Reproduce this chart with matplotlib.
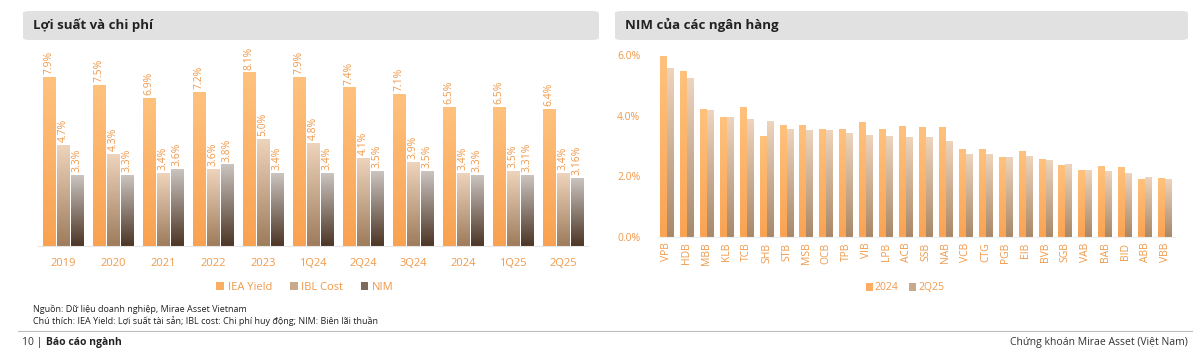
import numpy as np
import matplotlib
matplotlib.use('Agg')
import matplotlib.pyplot as plt
from matplotlib.colors import LinearSegmentedColormap
from matplotlib.patches import FancyBboxPatch, Patch
from matplotlib.lines import Line2D

plt.rcParams['font.family'] = ['Open Sans', 'DejaVu Sans']

# left chart data
periods = ['2019', '2020', '2021', '2022', '2023', '1Q24', '2Q24', '3Q24', '2024', '1Q25', '2Q25']
iea_yield = [7.9, 7.5, 6.9, 7.2, 8.1, 7.9, 7.4, 7.1, 6.5, 6.5, 6.4]
ibl_cost = [4.7, 4.3, 3.4, 3.6, 5.0, 4.8, 4.1, 3.9, 3.4, 3.5, 3.4]
nim = [3.3, 3.3, 3.6, 3.8, 3.4, 3.4, 3.5, 3.5, 3.3, 3.31, 3.16]

# right chart data
banks = ['VPB', 'HDB', 'MBB', 'KLB', 'TCB', 'SHB', 'STB', 'MSB', 'OCB', 'TPB', 'VIB', 'LPB', 'ACB',
         'SSB', 'NAB', 'VCB', 'CTG', 'PGB', 'EIB', 'BVB', 'SGB', 'VAB', 'BAB', 'BID', 'ABB', 'VBB']
nim_2024 = [5.95, 5.44, 4.21, 3.93, 4.27, 3.32, 3.66, 3.66, 3.53, 3.53, 3.78, 3.56, 3.63,
            3.60, 3.60, 2.90, 2.90, 2.63, 2.81, 2.56, 2.35, 2.18, 2.32, 2.29, 1.89, 1.92]
nim_2q25 = [5.55, 5.24, 4.18, 3.95, 3.89, 3.82, 3.53, 3.50, 3.51, 3.40, 3.36, 3.30, 3.27,
            3.27, 3.15, 2.72, 2.71, 2.63, 2.64, 2.52, 2.38, 2.18, 2.15, 2.08, 1.95, 1.89]

ORANGE_TXT = '#F0994A'
W, H = 1200, 351
fig = plt.figure(figsize=(12, 3.51), dpi=100)


def px_axes(x0, y0, x1, y1):
    # pixel box (top-left origin) -> figure axes
    return fig.add_axes([x0 / W, 1 - y1 / H, (x1 - x0) / W, (y1 - y0) / H])


def grad_bars(ax, bars, top, bottom):
    cmap = LinearSegmentedColormap.from_list('g', [bottom, top])
    grad = np.linspace(0, 1, 256).reshape(-1, 1)
    for b in bars:
        x, y = b.get_xy()
        w, h = b.get_width(), b.get_height()
        ax.imshow(grad, extent=[x, x + w, y, y + h], origin='lower', cmap=cmap,
                  aspect='auto', zorder=2, interpolation='bilinear')
        b.set_facecolor('none')
        b.set_edgecolor('none')


# header boxes
for (x0, x1, title) in [(23, 599, 'Lợi suất và chi phí'), (615, 1188, 'NIM của các ngân hàng')]:
    fig.patches.append(FancyBboxPatch((x0 / W, 1 - 40 / H), (x1 - x0) / W, 29 / H,
                                      boxstyle='round,pad=0,rounding_size=0.006',
                                      transform=fig.transFigure, fc='#E1E1E1', ec='none'))
    fig.text((x0 + 10) / W, 1 - 25 / H, title, fontsize=9.5, fontweight='bold',
             va='center', ha='left', color='#222222')

# left chart
ax1 = px_axes(38, 45, 588, 246)
x = np.arange(len(periods))
bw = 0.25
cols1 = [('#FFC27E', '#F9A150'), ('#EED4BC', '#9E7C5C'), ('#CBC4BF', '#4C3525')]
for i, (vals, (ct, cb)) in enumerate(zip([iea_yield, ibl_cost, nim], cols1)):
    pos = x + (i - 1) * (bw + 0.03)
    bars = ax1.bar(pos, vals, width=bw, zorder=2)
    grad_bars(ax1, bars, ct, cb)
    for p, v in zip(pos, vals):
        lab = f'{v:.2f}%' if round(v, 1) != v else f'{v:.1f}%'
        ax1.text(p, v + 0.15, lab, rotation=90, ha='center', va='bottom',
                 fontsize=7.5, color=ORANGE_TXT)
ax1.set_xlim(-0.5, len(periods) - 0.5)
ax1.set_ylim(0, 9.4)
ax1.set_xticks(x)
ax1.set_xticklabels(periods, fontsize=8, color=ORANGE_TXT)
ax1.tick_params(axis='x', length=0, pad=9)
ax1.set_yticks([])
for s in ['top', 'right', 'left']:
    ax1.spines[s].set_visible(False)
ax1.spines['bottom'].set_color('#E6E6E6')

handles1 = [Patch(fc=c, ec='none') for c in ['#FBAE62', '#C9A98C', '#7E6A5C']]
fig.legend(handles1, ['IEA Yield', 'IBL Cost', 'NIM'], loc='center', bbox_to_anchor=(305 / W, 1 - 287 / H),
           ncol=3, frameon=False, fontsize=8, labelcolor=ORANGE_TXT, handlelength=0.7,
           handleheight=0.7, handletextpad=0.3, columnspacing=1.6)

# right chart
ax2 = px_axes(657, 45, 1175, 237)
xb = np.arange(len(banks))
bw2 = 0.35
b1 = ax2.bar(xb - bw2 / 2, nim_2024, width=bw2, zorder=2)
grad_bars(ax2, b1, '#FFC27E', '#F9A353')
b2 = ax2.bar(xb + bw2 / 2, nim_2q25, width=bw2, zorder=2)
grad_bars(ax2, b2, '#EED4BC', '#A88868')
ax2.set_xlim(-0.5, len(banks) - 0.5)
ax2.set_ylim(0, 6.33)
ax2.set_yticks([0, 2, 4, 6])
ax2.set_yticklabels([f'{t:.1f}%' for t in [0, 2, 4, 6]], fontsize=7.5, color=ORANGE_TXT)
ax2.set_xticks(xb)
ax2.set_xticklabels(banks, rotation=90, fontsize=7.5, color=ORANGE_TXT)
ax2.tick_params(axis='both', length=0)
ax2.tick_params(axis='y', pad=12)
ax2.tick_params(axis='x', pad=4)
for s in ['top', 'right', 'left']:
    ax2.spines[s].set_visible(False)
ax2.spines['bottom'].set_color('#EEEEEE')

handles2 = [Patch(fc=c, ec='none') for c in ['#FBAE62', '#C9A98C']]
fig.legend(handles2, ['2024', '2Q25'], loc='center', bbox_to_anchor=(905 / W, 1 - 288 / H),
           ncol=2, frameon=False, fontsize=7.5, labelcolor=ORANGE_TXT, handlelength=0.7,
           handleheight=0.7, handletextpad=0.2, columnspacing=1.0)

# notes and footer
fig.text(33 / W, 1 - 309 / H, 'Nguồn: Dữ liệu doanh nghiệp, Mirae Asset Vietnam', fontsize=6.5,
         va='center', color='#222222')
fig.text(33 / W, 1 - 321 / H, 'Chú thích: IEA Yield: Lợi suất tài sản; IBL cost: Chi phí huy động; NIM: Biên lãi thuần',
         fontsize=6.5, va='center', color='#222222')
fig.add_artist(Line2D([18 / W, 1192 / W], [1 - 331 / H, 1 - 331 / H], transform=fig.transFigure,
                      color='#BDBDBD', lw=0.8))
fig.text(22 / W, 1 - 342 / H, '10 | ', fontsize=7.5, va='center', color='#333333')
fig.text(46 / W, 1 - 342 / H, 'Báo cáo ngành', fontsize=7.5, fontweight='bold', va='center', color='#222222')
fig.text(1188 / W, 1 - 342 / H, 'Chứng khoán Mirae Asset (Việt Nam)', fontsize=7.5, ha='right',
         va='center', color='#333333')

fig.savefig('out.png', dpi=100, facecolor='white')
